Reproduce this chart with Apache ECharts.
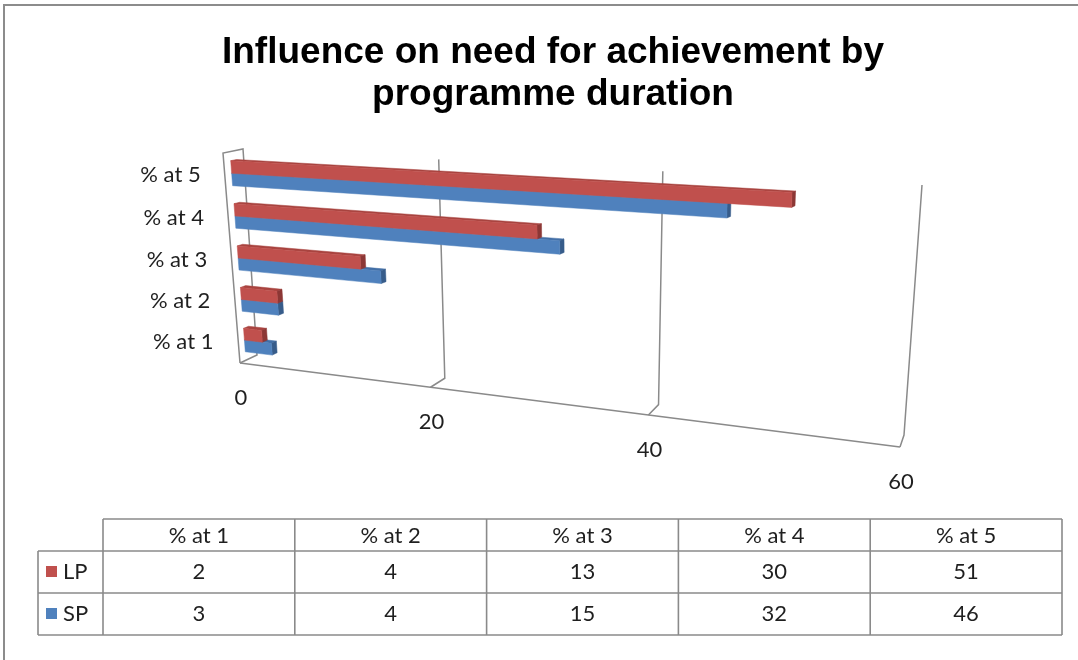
<!DOCTYPE html>
<html>
<head>
<meta charset="utf-8">
<title>Influence on need for achievement by programme duration</title>
<script src="https://cdn.jsdelivr.net/npm/echarts@6/dist/echarts.min.js"></script>
<style>
  html, body { margin: 0; padding: 0; background: #fff; }
  #chart { width: 1078px; height: 660px; }
</style>
</head>
<body>
<div id="chart"></div>
<script>
// ---- data ----
const categories = ['% at 1', '% at 2', '% at 3', '% at 4', '% at 5'];
const lpValues = [2, 4, 13, 30, 51];
const spValues = [3, 4, 15, 32, 46];
const valueTicks = [0, 20, 40, 60];
const seriesNames = ['LP', 'SP'];

// ---- look ----
const FONT = 'Lato, "Open Sans", sans-serif';
const FONT_SIZE = 22;
const TEXT = '#1f1f1f';
const LINE = '#8a8a8a';
const COLORS = {
  LP: { front: '#C0504D', top: '#A8433F', end: '#8C3735' },
  SP: { front: '#4F81BD', top: '#436FA6', end: '#375C8A' }
};

// Perspective of the 3-D box: front plane and back wall, corners TL, TR, BR, BL.
const FRONT_QUAD = [[223, 153], [912, 190], [900, 447], [240, 363]];
const BACK_QUAD = [[243, 149], [922, 185], [904, 435], [257, 355]];
const BAR_Z0 = 0.35, BAR_Z1 = 0.64;   // depth of the bar extrusion inside the box
const BAR_SHARE = 0.29;                // each bar's share of a category band

// unit square -> quadrilateral (projective)
function makeHomography(q) {
  const [p0, p1, p2, p3] = q;
  const dx1 = p1[0] - p2[0], dx2 = p3[0] - p2[0], dx3 = p0[0] - p1[0] + p2[0] - p3[0];
  const dy1 = p1[1] - p2[1], dy2 = p3[1] - p2[1], dy3 = p0[1] - p1[1] + p2[1] - p3[1];
  const den = dx1 * dy2 - dx2 * dy1;
  const g = (dx3 * dy2 - dx2 * dy3) / den;
  const h = (dx1 * dy3 - dx3 * dy1) / den;
  const a = p1[0] - p0[0] + g * p1[0], b = p3[0] - p0[0] + h * p3[0], c = p0[0];
  const d = p1[1] - p0[1] + g * p1[1], e = p3[1] - p0[1] + h * p3[1], f = p0[1];
  return function (u, v) {
    const k = g * u + h * v + 1;
    return [(a * u + b * v + c) / k, (d * u + e * v + f) / k];
  };
}
const Hf = makeHomography(FRONT_QUAD);
const Hb = makeHomography(BACK_QUAD);
function project(u, w, z) {
  const f = Hf(u, w), b = Hb(u, w);
  return [f[0] + (b[0] - f[0]) * z, f[1] + (b[1] - f[1]) * z];
}
// grid pixel -> unit coordinates of the plot box
function toUnit(cs, pt) {
  return [(pt[0] - cs.x) / cs.width, (pt[1] - cs.y) / cs.height];
}

function line(pts) {
  return {
    type: 'polyline', silent: true,
    shape: { points: pts },
    style: { stroke: LINE, lineWidth: 1.5, fill: null }
  };
}

// walls, floor edge, gridlines and value labels
function renderFrame(params, api) {
  const cs = params.coordSys;
  const v = api.value(0);
  const u = toUnit(cs, api.coord([v, 0]))[0];
  const children = [];
  if (v === valueTicks[0]) {
    children.push(line([Hf(0, 1), Hf(0, 0), Hb(0, 0), Hb(0, 1), Hf(0, 1)]));
    children.push(line([Hf(0, 1), Hf(1, 1)]));
  } else {
    children.push(line([Hb(u, 0), Hb(u, 1), Hf(u, 1)]));
  }
  const p = Hf(u, 1);
  children.push({
    type: 'text', silent: true,
    x: p[0] + 1, y: p[1] + 35,
    style: {
      text: String(v), fill: TEXT, font: FONT_SIZE + 'px ' + FONT,
      align: 'center', verticalAlign: 'middle'
    }
  });
  return { type: 'group', children: children };
}

function renderCategoryLabel(params, api) {
  const cs = params.coordSys;
  const idx = api.value(1);
  const w = toUnit(cs, api.coord([0, idx]))[1];
  const p = project(0, w, BAR_Z0);
  return {
    type: 'text', silent: true,
    x: p[0] - 31, y: p[1] + 2,
    style: {
      text: categories[idx], fill: TEXT, font: FONT_SIZE + 'px ' + FONT,
      align: 'right', verticalAlign: 'middle'
    }
  };
}

function makeBarRenderer(name, upper) {
  const col = COLORS[name];
  return function (params, api) {
    const cs = params.coordSys;
    const val = api.value(0);
    const cat = api.value(1);
    const base = toUnit(cs, api.coord([0, cat]));
    const tip = toUnit(cs, api.coord([val, cat]));
    const band = api.size([0, 1])[1] / cs.height;
    const u0 = base[0], u1 = tip[0];
    const wc = base[1];
    const wa = upper ? wc - BAR_SHARE * band : wc;
    const wb = upper ? wc : wc + BAR_SHARE * band;
    const P = (u, w, z) => project(u, w, z);
    const face = (pts, fill) => ({
      type: 'polygon', shape: { points: pts },
      style: { fill: fill, stroke: fill, lineWidth: 0.5 }
    });
    return {
      type: 'group',
      children: [
        face([P(u0, wa, BAR_Z0), P(u1, wa, BAR_Z0), P(u1, wa, BAR_Z1), P(u0, wa, BAR_Z1)], col.top),
        face([P(u1, wa, BAR_Z0), P(u1, wa, BAR_Z1), P(u1, wb, BAR_Z1), P(u1, wb, BAR_Z0)], col.end),
        face([P(u0, wa, BAR_Z0), P(u1, wa, BAR_Z0), P(u1, wb, BAR_Z0), P(u0, wb, BAR_Z0)], col.front)
      ]
    };
  };
}

// ---- data table under the plot ----
const TABLE = { left: 38, keyRight: 103, colW: 191.8, top: 519, headH: 32, rowH: 42 };
function buildTable() {
  const els = [];
  const T = TABLE;
  const right = T.keyRight + T.colW * categories.length;
  const rowsTop = T.top + T.headH;
  const bottom = rowsTop + T.rowH * seriesNames.length;
  const stroke = { stroke: LINE, lineWidth: 1.6 };
  const hl = (x1, x2, y) => ({ type: 'line', silent: true, shape: { x1: x1, y1: y, x2: x2, y2: y }, style: stroke });
  const vl = (x, y1, y2) => ({ type: 'line', silent: true, shape: { x1: x, y1: y1, x2: x, y2: y2 }, style: stroke });
  const txt = (s, x, y, align) => ({
    type: 'text', silent: true, x: x, y: y,
    style: { text: s, fill: TEXT, font: FONT_SIZE + 'px ' + FONT, align: align || 'center', verticalAlign: 'middle' }
  });
  els.push(hl(T.keyRight, right, T.top));
  els.push(hl(T.left, right, rowsTop));
  for (let r = 1; r <= seriesNames.length; r++) els.push(hl(T.left, right, rowsTop + T.rowH * r));
  els.push(vl(T.left, rowsTop, bottom));
  for (let c = 0; c <= categories.length; c++) els.push(vl(T.keyRight + T.colW * c, T.top, bottom));
  categories.forEach((cat, c) => {
    els.push(txt(cat, T.keyRight + T.colW * (c + 0.5), T.top + T.headH / 2 + 1));
  });
  const rows = { LP: lpValues, SP: spValues };
  seriesNames.forEach((name, r) => {
    const cy = rowsTop + T.rowH * (r + 0.5);
    els.push({ type: 'rect', silent: true, shape: { x: 46, y: cy - 6, width: 11, height: 11 }, style: { fill: COLORS[name].front } });
    els.push(txt(name, 63, cy, 'left'));
    rows[name].forEach((v, c) => els.push(txt(String(v), T.keyRight + T.colW * (c + 0.5), cy)));
  });
  // chart area border (top and left edges)
  els.push({ type: 'polyline', silent: true, shape: { points: [[4, 700], [4, 5], [1100, 5]] },
             style: { stroke: '#8c8c8c', lineWidth: 2, fill: null } });
  return els;
}

const chart = echarts.init(document.getElementById('chart'), null, { renderer: 'canvas' });
chart.setOption({
  backgroundColor: '#ffffff',
  animation: false,
  title: {
    text: 'Influence on need for achievement by\nprogramme duration',
    left: 548, top: 27, textAlign: 'center',
    textStyle: {
      fontFamily: '"Liberation Sans", Arial, sans-serif', fontWeight: 'bold',
      fontSize: 37, lineHeight: 42, color: '#000'
    }
  },
  grid: { left: 243, top: 150, width: 680, height: 210, containLabel: false },
  xAxis: { type: 'value', min: 0, max: 60, interval: 20, show: false },
  yAxis: { type: 'category', data: categories, show: false },
  graphic: { elements: buildTable() },
  series: [
    {
      type: 'custom', name: 'axis', coordinateSystem: 'cartesian2d', silent: true,
      renderItem: renderFrame, data: valueTicks.map(v => [v, 0]), z: 1
    },
    {
      type: 'custom', name: 'categories', coordinateSystem: 'cartesian2d', silent: true,
      renderItem: renderCategoryLabel, data: categories.map((c, i) => [0, i]), z: 1
    },
    {
      type: 'custom', name: seriesNames[1], coordinateSystem: 'cartesian2d',
      renderItem: makeBarRenderer('SP', false), data: spValues.map((v, i) => [v, i]),
      encode: { x: 0, y: 1 }, z: 2
    },
    {
      type: 'custom', name: seriesNames[0], coordinateSystem: 'cartesian2d',
      renderItem: makeBarRenderer('LP', true), data: lpValues.map((v, i) => [v, i]),
      encode: { x: 0, y: 1 }, z: 3
    }
  ]
});
</script>
</body>
</html>
